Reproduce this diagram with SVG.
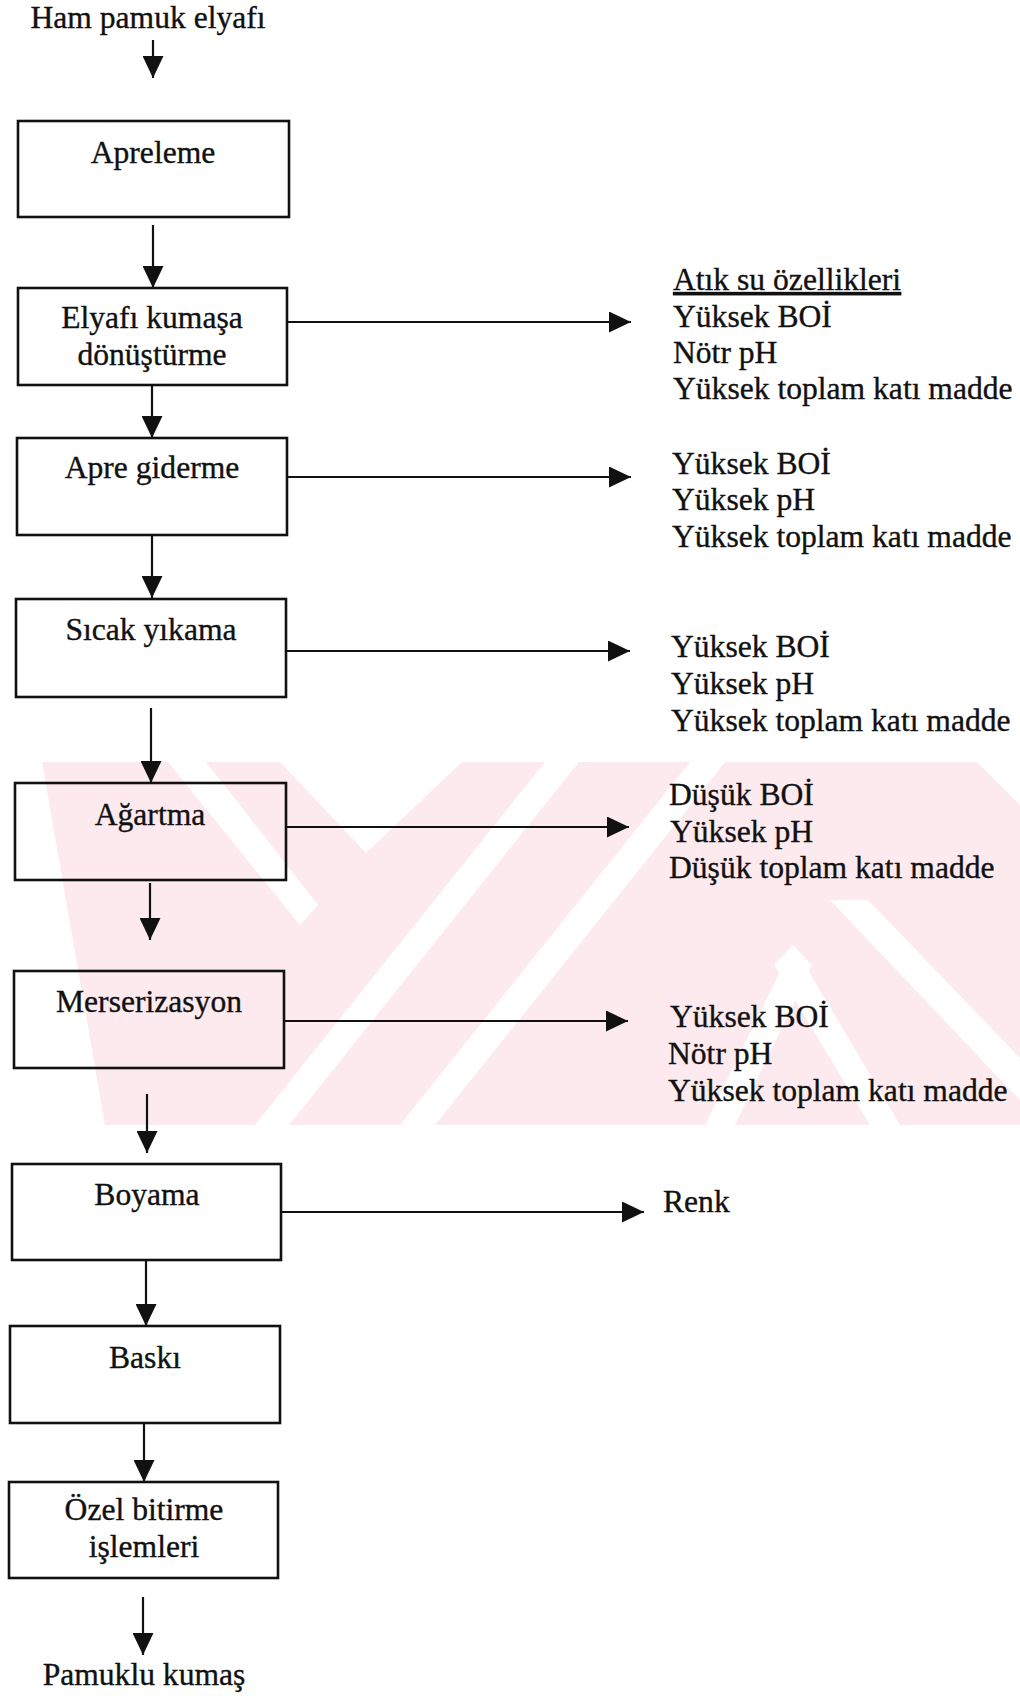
<svg xmlns="http://www.w3.org/2000/svg" width="1020" height="1696" viewBox="0 0 1020 1696">
<style>
.t{font-family:"Liberation Serif","Times New Roman",serif;font-size:31.6px;fill:#111;stroke:#111;stroke-width:0.35;}
.c{text-anchor:middle;}
.box{fill:none;stroke:#111;stroke-width:2.6;}
.ln{stroke:#111;stroke-width:2.2;fill:none;}
.wm{fill:#fdeaee;}
.wh{fill:#ffffff;}
</style>
<defs>
<marker id="ah" markerUnits="userSpaceOnUse" markerWidth="22" markerHeight="21" viewBox="0 0 22 21" refX="22" refY="10.5" orient="auto">
<path d="M0,0 L22,10.5 L0,21 Z" fill="#111"/>
</marker>
</defs>
<rect x="0" y="0" width="1020" height="1696" fill="#ffffff"/>
<g id="watermark">
<polygon class="wm" points="42,762 977,762 1020,805 1020,1125 105,1125"/>
<polygon class="wh" points="280,762 462,762 366,853"/>
<polygon class="wh" points="168,762 206,762 318,905 300,925"/>
<polygon class="wh" points="545,762 579,762 289,1125 255,1125"/>
<polygon class="wh" points="690,762 725,762 435,1125 400,1125"/>
<polygon class="wh" points="793,945 812,965 735,1125 705,1125"/>
<polygon class="wh" points="793,945 774,965 870,1125 900,1125"/>
<polygon class="wh" points="830,900 868,900 1020,1058 1020,1100"/>
</g>
<g id="connectors">
<line class="ln" x1="153" y1="40" x2="153" y2="78" marker-end="url(#ah)"/>
<line class="ln" x1="153" y1="225" x2="153" y2="288" marker-end="url(#ah)"/>
<line class="ln" x1="152" y1="385" x2="152" y2="438" marker-end="url(#ah)"/>
<line class="ln" x1="152" y1="535" x2="152" y2="598" marker-end="url(#ah)"/>
<line class="ln" x1="151" y1="708" x2="151" y2="783" marker-end="url(#ah)"/>
<line class="ln" x1="150" y1="883" x2="150" y2="940" marker-end="url(#ah)"/>
<line class="ln" x1="147" y1="1094" x2="147" y2="1153" marker-end="url(#ah)"/>
<line class="ln" x1="146" y1="1260" x2="146" y2="1326" marker-end="url(#ah)"/>
<line class="ln" x1="144" y1="1423" x2="144" y2="1482" marker-end="url(#ah)"/>
<line class="ln" x1="143" y1="1597" x2="143" y2="1655" marker-end="url(#ah)"/>
<line class="ln" x1="287" y1="322" x2="631" y2="322" marker-end="url(#ah)"/>
<line class="ln" x1="287" y1="477" x2="631" y2="477" marker-end="url(#ah)"/>
<line class="ln" x1="286" y1="651" x2="630" y2="651" marker-end="url(#ah)"/>
<line class="ln" x1="286" y1="827" x2="629" y2="827" marker-end="url(#ah)"/>
<line class="ln" x1="284" y1="1021" x2="628" y2="1021" marker-end="url(#ah)"/>
<line class="ln" x1="281" y1="1212" x2="644" y2="1212" marker-end="url(#ah)"/>
</g>
<g id="start"><text class="t c" x="148" y="28">Ham pamuk elyafı</text></g>
<g id="n1"><rect class="box" x="18" y="121" width="271" height="96"/><text class="t c" x="153" y="163">Apreleme</text></g>
<g id="n2"><rect class="box" x="18" y="288" width="269" height="97"/><text class="t c" x="152" y="328">Elyafı kumaşa</text><text class="t c" x="152" y="365">dönüştürme</text></g>
<g id="n3"><rect class="box" x="17" y="438" width="270" height="97"/><text class="t c" x="152" y="478">Apre giderme</text></g>
<g id="n4"><rect class="box" x="16" y="599" width="270" height="98"/><text class="t c" x="151" y="640">Sıcak yıkama</text></g>
<g id="n5"><rect class="box" x="15" y="783" width="271" height="97"/><text class="t c" x="150" y="825">Ağartma</text></g>
<g id="n6"><rect class="box" x="14" y="971" width="270" height="97"/><text class="t c" x="149" y="1012">Merserizasyon</text></g>
<g id="n7"><rect class="box" x="12" y="1164" width="269" height="96"/><text class="t c" x="147" y="1205">Boyama</text></g>
<g id="n8"><rect class="box" x="10" y="1326" width="270" height="97"/><text class="t c" x="145" y="1368">Baskı</text></g>
<g id="n9"><rect class="box" x="9" y="1482" width="269" height="96"/><text class="t c" x="144" y="1520">Özel bitirme</text><text class="t c" x="144" y="1557">işlemleri</text></g>
<g id="end"><text class="t c" x="144" y="1685">Pamuklu kumaş</text></g>
<g id="o1"><text class="t" x="673" y="290" text-decoration="underline">Atık su özellikleri</text><text class="t" x="673" y="327">Yüksek BOİ</text><text class="t" x="673" y="363">Nötr pH</text><text class="t" x="673" y="399">Yüksek toplam katı madde</text></g>
<g id="o2"><text class="t" x="672" y="474">Yüksek BOİ</text><text class="t" x="672" y="510">Yüksek pH</text><text class="t" x="672" y="547">Yüksek toplam katı madde</text></g>
<g id="o3"><text class="t" x="671" y="657">Yüksek BOİ</text><text class="t" x="671" y="694">Yüksek pH</text><text class="t" x="671" y="731">Yüksek toplam katı madde</text></g>
<g id="o4"><text class="t" x="669" y="805">Düşük BOİ</text><text class="t" x="670" y="842">Yüksek pH</text><text class="t" x="669" y="878">Düşük toplam katı madde</text></g>
<g id="o5"><text class="t" x="670" y="1027">Yüksek BOİ</text><text class="t" x="668" y="1064">Nötr pH</text><text class="t" x="668" y="1101">Yüksek toplam katı madde</text></g>
<g id="o6"><text class="t" x="663" y="1212">Renk</text></g>
</svg>
